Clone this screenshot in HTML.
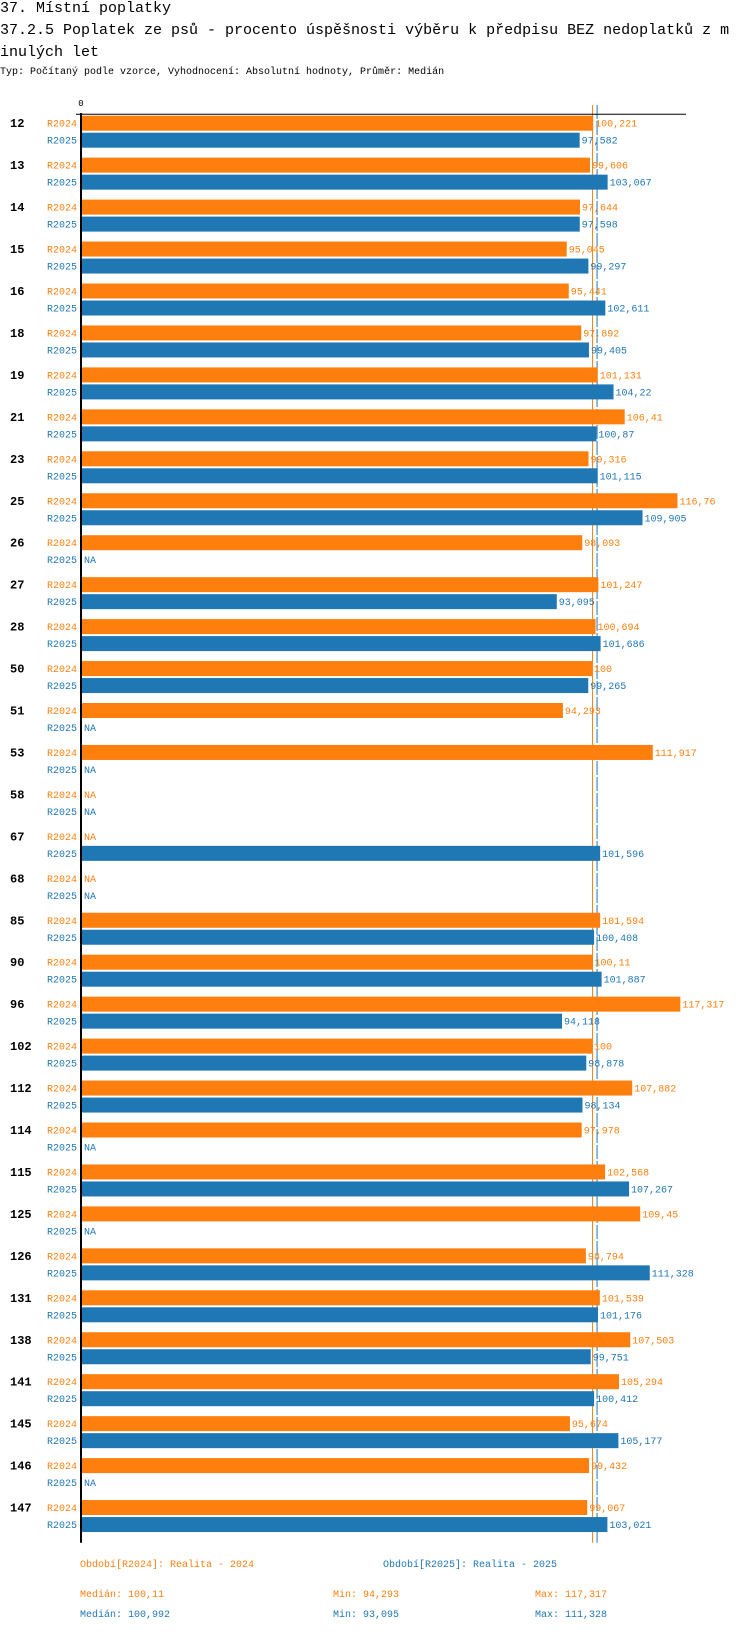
<!DOCTYPE html>
<html><head><meta charset="utf-8"><style>
html,body{margin:0;padding:0;background:#fff;}
body{width:750px;height:1632px;overflow:hidden;font-family:"Liberation Mono",monospace;}
.t{position:absolute;left:0;white-space:nowrap;color:#000;}
</style></head><body>
<div class="t" style="top:0px;font-size:15px;line-height:18px;">37. Místní poplatky</div>
<div class="t" style="top:20px;font-size:15px;line-height:22px;">37.2.5 Poplatek ze psů - procento úspěšnosti výběru k předpisu BEZ nedoplatků z m<br>inulých let</div>
<div class="t" style="top:67px;font-size:10px;line-height:12px;">Typ: Počítaný podle vzorce, Vyhodnocení: Absolutní hodnoty, Průměr: Medián</div>
<svg id="chart" width="750" height="1632" style="position:absolute;left:0;top:0;" xmlns="http://www.w3.org/2000/svg" font-family="Liberation Mono, monospace"></svg>
<script>
const categories=["12","13","14","15","16","18","19","21","23","25","26","27","28","50","51","53","58","67","68","85","90","96","102","112","114","115","125","126","131","138","141","145","146","147"];
const r2024=[100.221,99.606,97.644,95.045,95.441,97.892,101.131,106.41,99.316,116.76,98.093,101.247,100.694,100,94.293,111.917,null,null,null,101.594,100.11,117.317,100,107.882,97.978,102.568,109.45,98.794,101.539,107.503,105.294,95.674,99.432,99.067];
const r2025=[97.582,103.067,97.598,99.297,102.611,99.405,104.22,100.87,101.115,109.905,null,93.095,101.686,99.265,null,null,null,101.596,null,100.408,101.887,94.118,98.878,98.134,null,107.267,null,111.328,101.176,99.751,100.412,105.177,null,103.021];
const seriesNames=["R2024","R2025"];
const medians=[100.11,100.992];
const mins=[94.293,93.095];
const maxs=[117.317,111.328];
const legendLabels=["Období[R2024]: Realita - 2024","Období[R2025]: Realita - 2025"];
const colors=["#ff7f0e","#1f77b4"];
const svg=document.getElementById('chart');
const NS="http://www.w3.org/2000/svg";
const x0=82, kx=5.1, y0=115.7, pitch=41.95;
function xs(v){return x0+v*kx;}
function gy(i){return y0+i*pitch;}
function fmt(v){return String(v).replace('.',',');}
function mk(tag,attrs,txt){const e=document.createElementNS(NS,tag);for(const k in attrs)e.setAttribute(k,attrs[k]);if(txt!=null)e.textContent=txt;svg.appendChild(e);return e;}
const series=[r2024,r2025];
const axisBottom=gy(categories.length-1)+42.7;
medians.forEach((m,j)=>{
  const ln=mk('line',{x1:xs(m),x2:xs(m),y1:105,y2:axisBottom,stroke:colors[j],'stroke-width':1});
  if(j==1)ln.setAttribute('stroke-dasharray','14,2');
  
  
});
categories.forEach((c,i)=>{
  const g=mk('text',{x:10,y:gy(i)+11.5,'font-size':12,'font-weight':'bold',fill:'#000'},c);
  
  
  series.forEach((s,j)=>{
    const top=gy(i)+j*17, h=15;
    const l=mk('text',{x:77,y:top+11,'font-size':10,fill:colors[j],'text-anchor':'end'},seriesNames[j]);
    
    
    const v=s[i];
    if(v==null){
      const n=mk('text',{x:84,y:top+11,'font-size':10,fill:colors[j]},'NA');
      
      
    }else{
      const r=mk('rect',{x:x0,y:top,width:xs(v)-x0,height:h,fill:colors[j]});
      
      
      const t=mk('text',{x:xs(v)+2,y:top+11,'font-size':10,fill:colors[j]},fmt(v));
      
      
    }
  });
});
const ax=mk('line',{x1:81,x2:81,y1:113,y2:axisBottom,stroke:'#000','stroke-width':2});


const hx=mk('line',{x1:76,x2:686,y1:114.3,y2:114.3,stroke:'#000','stroke-width':1});


const z=mk('text',{x:81,y:106,'font-size':9,fill:'#000','text-anchor':'middle'},'0');


[80,383].forEach((lx,j)=>{
  const t=mk('text',{x:lx,y:1567,'font-size':10,fill:colors[j]},legendLabels[j]);
  
  
});
[0,1].forEach(j=>{
  const y=1597+j*20;
  const a=mk('text',{x:80,y:y,'font-size':10,fill:colors[j]},'Medián: '+fmt(medians[j]));
  
  
  const b=mk('text',{x:333,y:y,'font-size':10,fill:colors[j]},'Min: '+fmt(mins[j]));
  
  
  const d=mk('text',{x:535,y:y,'font-size':10,fill:colors[j]},'Max: '+fmt(maxs[j]));
  
  
});
</script>
</body></html>
